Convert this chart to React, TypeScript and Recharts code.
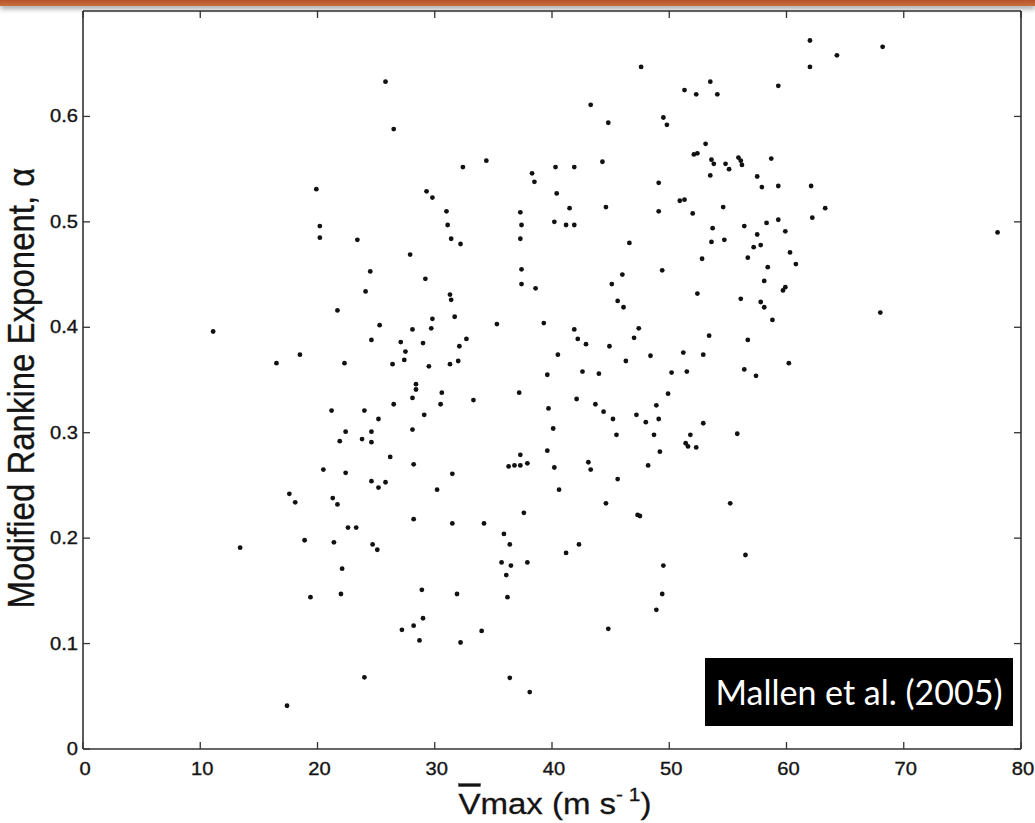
import React from "react";
import { ScatterChart, Scatter, XAxis, YAxis } from "recharts";

// Mean maximum tangential wind (m/s)
const vmax: number[] = [
  11.1, 16.5, 18.5, 17.6, 18.1, 13.4, 18.9, 19.4, 17.4,
  19.9, 20.2, 20.2, 21.2, 21.3, 21.7, 21.4, 22.1, 22.0, 21.7, 22.3, 22.4, 21.9, 22.4, 22.6, 20.5,
  23.4, 24.5, 24.1, 25.3, 24.6, 23.3, 24.0, 24.0, 23.8, 24.6, 24.6, 24.6, 25.2, 24.7, 25.1, 25.8, 26.2, 26.5, 25.8, 26.5, 26.4, 25.2,
  27.1, 27.5, 27.4, 27.9, 28.1, 28.4, 28.4, 28.1, 28.2, 28.2, 28.1, 27.2, 28.2, 28.7, 29.0, 28.9,
  29.3, 29.8, 29.2, 29.8, 29.7, 29.5, 29.1, 30.2, 30.6, 30.5, 29.0,
  31.0, 31.1, 31.4, 31.3, 31.4, 31.7, 31.3, 32.1, 31.5, 31.5, 31.9, 32.2, 32.2, 32.4, 32.7, 32.0, 33.3, 34.0, 34.4, 34.2, 35.3,
  35.9, 35.7, 36.4, 36.1, 36.2, 36.4, 36.5, 36.3, 36.8, 37.2, 37.3, 37.4, 37.3, 37.4, 37.4, 37.3, 37.3, 37.9, 37.6, 37.9, 38.1, 38.3, 38.5, 38.6,
  39.3, 39.6, 39.7, 40.1, 39.6, 40.2, 40.6, 40.3, 40.4, 40.2, 40.5, 41.2, 41.5, 41.9, 41.9, 41.2, 41.9, 42.2, 42.1, 42.3, 42.6, 42.9,
  43.1, 43.3, 43.3, 43.7, 44.0, 44.3, 44.8, 44.6, 44.4, 44.6, 44.8, 44.9, 45.1, 45.2, 45.5, 45.6, 45.6, 46.0, 46.1, 46.3,
  47.0, 47.2, 47.3, 47.5, 47.6, 48.0, 48.2, 48.4, 48.7,
  48.9, 49.1, 49.5, 49.8, 49.2, 49.5, 48.9, 49.4, 49.9, 50.2, 51.2, 51.3, 51.4, 51.5, 51.6, 51.8,
  52.3, 52.3, 52.9, 52.9, 53.5, 53.4,
  54.1, 55.2, 55.8, 56.4, 56.5, 56.7, 57.4, 59.3,
  60.2, 62.0, 62.0, 64.3, 68.2, 68.0, 78.0,
  53.1, 52.1, 52.4, 53.6, 53.8, 54.8, 55.1, 55.9, 56.1, 56.2, 58.7, 53.5, 57.5, 57.9, 59.3, 62.1,
  49.1, 50.9, 51.3, 49.1, 52.0, 54.6, 63.3, 62.2, 53.7, 56.4, 58.3, 59.3, 59.9, 57.5,
  53.6, 54.7, 57.2, 57.8, 46.6, 56.7, 60.3, 52.8, 58.4, 60.8, 49.4,
  58.1, 59.7, 59.9, 52.4, 56.1, 57.8, 58.1, 58.8, 47.4,
];

// Modified Rankine exponent alpha
const alpha: number[] = [
  0.396, 0.366, 0.374, 0.242, 0.234, 0.191, 0.198, 0.144, 0.041,
  0.531, 0.496, 0.485, 0.321, 0.238, 0.232, 0.196, 0.171, 0.147, 0.416, 0.366, 0.301, 0.292, 0.262, 0.21, 0.265,
  0.483, 0.453, 0.434, 0.402, 0.388, 0.21, 0.068, 0.321, 0.294, 0.301, 0.291, 0.254, 0.248, 0.194, 0.189, 0.253, 0.277, 0.327, 0.633, 0.588, 0.365, 0.313,
  0.386, 0.377, 0.369, 0.469, 0.398, 0.346, 0.341, 0.333, 0.27, 0.218, 0.303, 0.113, 0.117, 0.103, 0.124, 0.151,
  0.529, 0.523, 0.446, 0.408, 0.399, 0.363, 0.317, 0.246, 0.338, 0.327, 0.385,
  0.51, 0.497, 0.484, 0.431, 0.426, 0.41, 0.365, 0.382, 0.261, 0.214, 0.147, 0.101, 0.479, 0.552, 0.389, 0.368, 0.331, 0.112, 0.558, 0.214, 0.403,
  0.204, 0.177, 0.194, 0.165, 0.144, 0.0675, 0.174, 0.268, 0.269, 0.338, 0.509, 0.497, 0.484, 0.455, 0.441, 0.279, 0.269, 0.271, 0.224, 0.177, 0.054, 0.546, 0.538, 0.437,
  0.404, 0.355, 0.323, 0.304, 0.283, 0.267, 0.246, 0.552, 0.527, 0.5, 0.374, 0.497, 0.513, 0.497, 0.552, 0.186, 0.398, 0.389, 0.332, 0.194, 0.358, 0.384,
  0.272, 0.265, 0.611, 0.327, 0.356, 0.557, 0.594, 0.514, 0.32, 0.233, 0.114, 0.382, 0.441, 0.313, 0.298, 0.256, 0.425, 0.45, 0.419, 0.368,
  0.39, 0.317, 0.222, 0.221, 0.647, 0.31, 0.269, 0.373, 0.298,
  0.326, 0.313, 0.599, 0.592, 0.282, 0.174, 0.132, 0.147, 0.337, 0.357, 0.376, 0.625, 0.29, 0.358, 0.287, 0.298,
  0.621, 0.286, 0.374, 0.309, 0.633, 0.392,
  0.621, 0.233, 0.299, 0.36, 0.184, 0.388, 0.354, 0.629,
  0.366, 0.672, 0.647, 0.658, 0.666, 0.414, 0.49,
  0.574, 0.564, 0.565, 0.559, 0.555, 0.555, 0.55, 0.561, 0.558, 0.554, 0.56, 0.544, 0.543, 0.533, 0.534, 0.534,
  0.537, 0.52, 0.521, 0.51, 0.508, 0.514, 0.513, 0.504, 0.494, 0.496, 0.499, 0.502, 0.491, 0.488,
  0.481, 0.483, 0.476, 0.478, 0.48, 0.466, 0.471, 0.465, 0.457, 0.46, 0.454,
  0.444, 0.435, 0.438, 0.432, 0.427, 0.424, 0.419, 0.407, 0.399,
];

const xTicks: number[] = [0, 10, 20, 30, 40, 50, 60, 70, 80];
const yTicks: number[] = [0, 0.1, 0.2, 0.3, 0.4, 0.5, 0.6];

const data = vmax.map((v, i) => ({ x: v, y: alpha[i] }));

const FONT = "'Liberation Sans', Arial, Helvetica, sans-serif";
const INK = "#141414";
const TICK = 7;

const fmtY = (v: number) => (v === 0 ? "0" : v.toFixed(1));

const BottomTick = (p: any) => (
  <g>
    <line x1={p.x} x2={p.x} y1={p.y} y2={p.y - TICK} stroke="#333" strokeWidth={1.3} />
    <text
      transform={`translate(${p.x + 2},${p.y + 26}) scale(1.12,1)`}
      textAnchor="middle"
      fontSize={18}
      fontFamily={FONT}
      fill={INK}
      stroke={INK}
      strokeWidth={0.35}
    >
      {p.payload.value}
    </text>
  </g>
);

const TopTick = (p: any) => (
  <line x1={p.x} x2={p.x} y1={p.y} y2={p.y + TICK} stroke="#333" strokeWidth={1.3} />
);

const LeftTick = (p: any) => (
  <g>
    <line x1={p.x} x2={p.x + TICK} y1={p.y} y2={p.y} stroke="#333" strokeWidth={1.3} />
    <text
      transform={`translate(${p.x - 5},${p.y + 6}) scale(1.12,1)`}
      textAnchor="end"
      fontSize={18}
      fontFamily={FONT}
      fill={INK}
      stroke={INK}
      strokeWidth={0.35}
    >
      {fmtY(p.payload.value)}
    </text>
  </g>
);

const RightTick = (p: any) => (
  <line x1={p.x} x2={p.x - TICK} y1={p.y} y2={p.y} stroke="#333" strokeWidth={1.3} />
);

const XTitle = (props: any) => {
  const vb = props.viewBox || { x: 83, y: 749, width: 938 };
  const cx = vb.x + vb.width / 2 + 3;
  return (
    <text
      transform={`translate(${cx},814) scale(1.1,1)`}
      textAnchor="middle"
      fontSize={30}
      fontFamily={FONT}
      fill={INK}
      stroke={INK}
      strokeWidth={0.3}
    >
      <tspan style={{ textDecoration: "overline" }}>V</tspan>
      <tspan>max (m s</tspan>
      <tspan dy={-13} fontSize={19}>{"- 1"}</tspan>
      <tspan dy={13}>)</tspan>
    </text>
  );
};

const YTitle = (props: any) => {
  const vb = props.viewBox || { x: 23, y: 11, width: 60, height: 738 };
  const cy = vb.y + vb.height / 2 + 8;
  return (
    <text
      transform={`translate(34,${cy}) scale(1.1,1) rotate(-90)`}
      textAnchor="middle"
      fontSize={33}
      fontFamily={FONT}
      fill={INK}
      stroke={INK}
      strokeWidth={0.3}
    >
      Modified Rankine Exponent, α
    </text>
  );
};

const Dot = (p: any) => <circle cx={p.cx} cy={p.cy} r={2.4} fill="#111" />;
const NoDot = () => <g />;

export default function App() {
  return (
    <div
      style={{
        position: "absolute",
        left: 0,
        top: 0,
        width: 1035,
        height: 823,
        background: "#ffffff",
        overflow: "hidden",
      }}
    >
      <ScatterChart
        width={1035}
        height={823}
        margin={{ top: 10, right: 13, bottom: 73, left: 23 }}
      >
        <XAxis
          xAxisId="bottom"
          dataKey="x"
          type="number"
          domain={[0, 80]}
          ticks={xTicks}
          orientation="bottom"
          height={1}
          tickSize={0}
          tickMargin={0}
          tickLine={false}
          tick={BottomTick}
          axisLine={{ stroke: "#333", strokeWidth: 1.6 }}
          interval={0}
          label={{ content: XTitle }}
        />
        <XAxis
          xAxisId="top"
          dataKey="x"
          type="number"
          domain={[0, 80]}
          ticks={xTicks}
          orientation="top"
          height={1}
          tickSize={0}
          tickMargin={0}
          tickLine={false}
          tick={TopTick}
          axisLine={{ stroke: "#333", strokeWidth: 1.6 }}
          interval={0}
        />
        <YAxis
          yAxisId="left"
          dataKey="y"
          type="number"
          domain={[0, 0.7]}
          ticks={yTicks}
          orientation="left"
          width={60}
          tickSize={0}
          tickMargin={0}
          tickLine={false}
          tick={LeftTick}
          axisLine={{ stroke: "#333", strokeWidth: 1.6 }}
          interval={0}
          label={{ content: YTitle }}
        />
        <YAxis
          yAxisId="right"
          dataKey="y"
          type="number"
          domain={[0, 0.7]}
          ticks={yTicks}
          orientation="right"
          width={1}
          tickSize={0}
          tickMargin={0}
          tickLine={false}
          tick={RightTick}
          axisLine={{ stroke: "#333", strokeWidth: 1.6 }}
          interval={0}
        />
        <Scatter
          data={data}
          xAxisId="bottom"
          yAxisId="left"
          shape={Dot}
          isAnimationActive={false}
        />
        <Scatter
          data={data}
          xAxisId="top"
          yAxisId="right"
          shape={NoDot}
          isAnimationActive={false}
        />
      </ScatterChart>

      <div
        style={{
          position: "absolute",
          left: 0,
          top: 0,
          width: 1035,
          height: 6,
          background: "linear-gradient(#b4542a, #c8703f)",
          boxShadow: "0 3px 5px rgba(0,0,0,0.35)",
        }}
      />

      <div
        style={{
          position: "absolute",
          left: 705,
          top: 658,
          width: 308,
          height: 68,
          background: "#000",
          color: "#fff",
          fontFamily: "Lato, 'Open Sans', sans-serif",
          fontSize: 34,
          lineHeight: "68px",
          textAlign: "center",
          whiteSpace: "nowrap",
        }}
      >
        Mallen et al. (2005)
      </div>
    </div>
  );
}
